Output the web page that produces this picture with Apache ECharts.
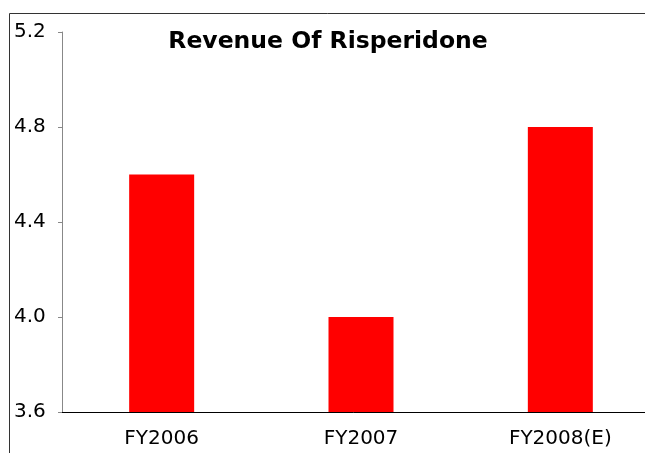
<!DOCTYPE html>
<html>
<head>
<meta charset="utf-8">
<script src="https://cdn.jsdelivr.net/npm/echarts@6/dist/echarts.min.js"></script>
<style>
  html, body { margin: 0; padding: 0; background: #fff; }
  #main { width: 645px; height: 453px; }
</style>
</head>
<body>
<div id="main"></div>
<script>
// data
var categories = ['FY2006', 'FY2007', 'FY2008(E)'];
var revenue = [4.6, 4.0, 4.8];
var yTicks = [3.6, 4.0, 4.4, 4.8, 5.2];

var chart = echarts.init(document.getElementById('main'));

var option = {
  backgroundColor: '#fff',
  animation: false,
  title: {
    text: 'Revenue Of Risperidone',
    left: 328,
    top: 25,
    textAlign: 'center',
    textStyle: {
      fontFamily: 'DejaVu Sans',
      fontWeight: 'bold',
      fontSize: 23.5,
      color: '#000'
    }
  },
  graphic: [{
    type: 'rect',
    shape: { x: 9.5, y: 13.5, width: 700, height: 500 },
    style: { fill: 'none', stroke: '#333', lineWidth: 1 },
    z: 100
  }],
  grid: {
    left: 62,
    width: 598,
    top: 32,
    bottom: 41,
    containLabel: false,
    outerBoundsMode: 'none'
  },
  xAxis: {
    type: 'category',
    data: categories,
    axisLine: { lineStyle: { color: '#000', width: 1 } },
    axisTick: { show: false },
    axisLabel: {
      fontFamily: 'DejaVu Sans',
      fontSize: 20,
      color: '#000',
      margin: 17
    }
  },
  yAxis: {
    type: 'value',
    min: yTicks[0],
    max: yTicks[yTicks.length - 1],
    interval: 0.4,
    axisLine: { show: true, lineStyle: { color: '#888', width: 1 } },
    axisTick: { show: true, length: 4, lineStyle: { color: '#888' } },
    splitLine: { show: false },
    axisLabel: {
      fontFamily: 'DejaVu Sans',
      fontSize: 20,
      color: '#000',
      align: 'left',
      margin: 48,
      formatter: function (v) { return v.toFixed(1); }
    }
  },
  series: [{
    type: 'bar',
    data: revenue,
    barWidth: 65,
    itemStyle: { color: '#ff0000' }
  }]
};
// title sits a little left of centre in the reference
option.title.left = 323;
chart.setOption(option);
</script>
</body>
</html>
